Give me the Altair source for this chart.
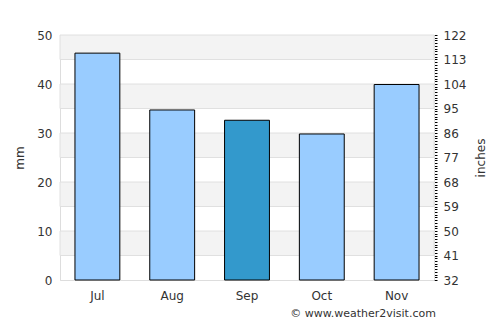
import altair as alt
import pandas as pd

months = ["Jul", "Aug", "Sep", "Oct", "Nov"]
rain_mm = [46.3, 34.7, 32.6, 29.8, 39.9]
highlight = [False, False, True, False, False]
band_starts = [5, 15, 25, 35, 45]
band_size = 5
right_min, right_max, right_step = 32, 122, 9

bars_df = pd.DataFrame({"month": months, "mm": rain_mm, "hl": highlight})
bands_df = pd.DataFrame({"y0": band_starts, "y1": [b + band_size for b in band_starts]})
right_df = pd.DataFrame({"v": [right_min, right_max]})

font = "DejaVu Sans"
yscale = alt.Scale(domain=[0, 50], nice=False)

bands = alt.Chart(bands_df).mark_rect(color="#f3f3f3", stroke="#e0e0e0", strokeWidth=1).encode(
    y=alt.Y("y0:Q", scale=yscale,
            axis=alt.Axis(title="mm", values=list(range(0, 51, 5)), ticks=False,
                          labelPadding=8, grid=False, labelOverlap=False,
                          domain=False, labelFont=font, labelFontSize=12,
                          labelColor="#333", titleFont=font, titleFontSize=12,
                          titleFontWeight="normal", titleColor="#333", titlePadding=10)),
    y2="y1:Q",
    x=alt.value(0),
    x2=alt.value(374),
)

bars = alt.Chart(bars_df).mark_bar(stroke="black", strokeWidth=1).encode(
    x=alt.X("month:N", sort=months,
            scale=alt.Scale(paddingInner=0.4, paddingOuter=0.2),
            axis=alt.Axis(title=None, ticks=False, labelAngle=0, labelPadding=10,
                          labelFont=font, labelFontSize=12, labelColor="#333",
                          domainColor="#dddddd")),
    y=alt.Y("mm:Q", scale=yscale),
    color=alt.Color("hl:N", scale=alt.Scale(domain=[False, True], range=["#99ccff", "#3399cc"]),
                    legend=None),
)

left = alt.layer(bands, bars)

right = alt.Chart(right_df).mark_point(opacity=0).encode(
    y=alt.Y("v:Q", scale=alt.Scale(domain=[right_min, right_max], nice=False),
            axis=alt.Axis(orient="right", title="inches", titleAngle=270, titleBaseline="bottom",
                          values=list(range(right_min, right_max + 1)),
                          labelExpr=f"(datum.value - {right_min}) % {right_step} == 0 ? datum.label : ''",
                          tickSize=3, tickColor="black", tickWidth=1, domainColor="#dddddd",
                          labelOverlap=False, labelBound=False, labelFlush=False,
                          labelPadding=6, labelFont=font, labelFontSize=12, labelColor="#333",
                          titleFont=font, titleFontSize=12, titleFontWeight="normal",
                          titleColor="#333", titlePadding=22, grid=False)),
)

chart = alt.layer(left, right).resolve_scale(y="independent").properties(
    width=374, height=245,
    padding={"left": 60, "top": 35, "right": 66, "bottom": 45},
    autosize=alt.AutoSizeParams(type="none"),
    title=alt.TitleParams("© www.weather2visit.com", orient="bottom", anchor="end",
                          font=font, fontSize=11, fontWeight="normal", color="#333",
                          offset=7, dx=-51),
).configure_view(stroke="#dddddd")

chart.save("out.html", embed_options={"renderer": "svg", "actions": False})
